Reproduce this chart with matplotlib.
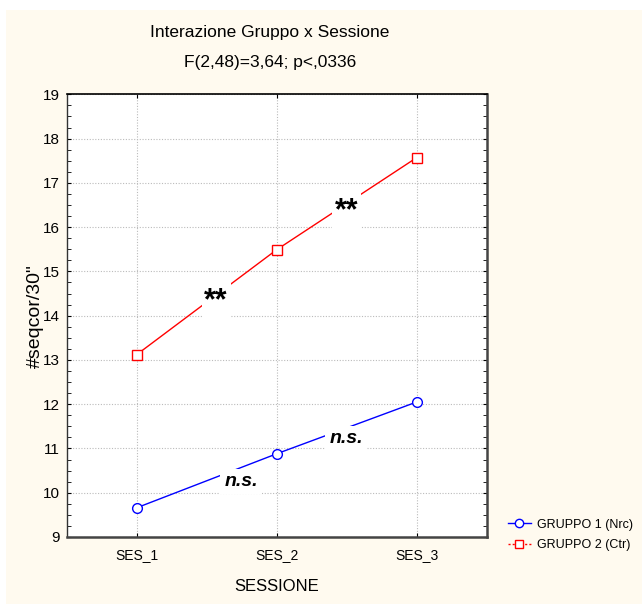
import matplotlib
matplotlib.use("Agg")
import matplotlib.pyplot as plt
from matplotlib.lines import Line2D
from matplotlib.patches import Rectangle
from matplotlib.ticker import MultipleLocator
from matplotlib import font_manager

sessions = ["SES_1", "SES_2", "SES_3"]
gruppo1 = [9.66, 10.88, 12.05]
gruppo2 = [13.12, 15.49, 17.57]
series_labels = ["GRUPPO 1 (Nrc)", "GRUPPO 2 (Ctr)"]
title_lines = ["Interazione Gruppo x Sessione", "F(2,48)=3,64; p<,0336"]
annotations = [("**", 1.567, 14.33), ("**", 2.497, 16.36)]
ns_annotations = [("n.s.", 1.746, 10.25), ("n.s.", 2.497, 11.22)]

names = {f.name for f in font_manager.fontManager.ttflist}
narrow = "Liberation Sans Narrow" if "Liberation Sans Narrow" in names else "Liberation Sans"
NF = [narrow, "DejaVu Sans"]
AF = ["Liberation Sans", "DejaVu Sans"]

bg = "#FFFAEF"
fig = plt.figure(figsize=(6.42, 6.04), dpi=100)
fig.patch.set_facecolor(bg)
W, H = 642, 604
# white border strips top/left
fig.patches.append(Rectangle((0, 1 - 10 / H), 1, 10 / H, transform=fig.transFigure,
                             facecolor="white", edgecolor="none", zorder=0))
fig.patches.append(Rectangle((0, 0), 6 / W, 1, transform=fig.transFigure,
                             facecolor="white", edgecolor="none", zorder=0))

left, right, top, bottom = 66.7, 486.7, 94.3, 537.0
ax = fig.add_axes([left / W, 1 - bottom / H, (right - left) / W, (bottom - top) / H])
ax.set_facecolor("white")
x = [1, 2, 3]
ax.plot(x, gruppo1, color="#0000FF", lw=1, marker="o", ms=7, mfc="white",
        mec="#0000FF", mew=1, zorder=3)
ax.plot(x, gruppo2, color="#FF0000", lw=1, marker="s", ms=7, mfc="white",
        mec="#FF0000", mew=1, zorder=3)

ax.set_xlim(0.5, 3.5)
ax.set_ylim(9, 19)
ax.set_xticks(x)
ax.set_xticklabels(sessions, fontfamily=NF, fontsize=10)
ax.set_yticks(range(9, 20))
ax.yaxis.set_minor_locator(MultipleLocator(0.25))
for lab in ax.get_yticklabels():
    lab.set_fontfamily(NF)
    lab.set_fontsize(11)
ax.tick_params(axis="y", which="major", direction="in", length=3, right=True, pad=5)
ax.tick_params(axis="y", which="minor", direction="in", length=3, right=True)
ax.tick_params(axis="x", which="major", direction="in", length=3, top=True, pad=8)
ax.grid(True, which="major", color="#BBBBBB", linestyle=(0, (1, 1.5)), lw=0.8)
ax.set_axisbelow(True)
ax.spines["top"].set_linewidth(1.2)
ax.spines["top"].set_color("black")
ax.spines["left"].set_linewidth(1.0)
ax.spines["left"].set_color("#333333")
for k in ("bottom", "right"):
    ax.spines[k].set_linewidth(1.8)
    ax.spines[k].set_color("#444444")

ax.set_ylabel('#seqcor/30"', fontfamily=NF, fontsize=14, labelpad=-1)
ax.set_xlabel("SESSIONE", fontfamily=NF, fontsize=12, labelpad=12)

for txt, xx, yy in annotations:
    ax.text(xx, yy, txt, ha="center", va="center", fontsize=22, fontweight="bold",
            fontfamily=AF, zorder=4,
            bbox=dict(facecolor="white", edgecolor="none", pad=2))
for txt, xx, yy in ns_annotations:
    ax.text(xx, yy, txt, ha="center", va="center", fontsize=14, fontweight="bold",
            fontstyle="italic", fontfamily=AF, zorder=4,
            bbox=dict(facecolor="white", edgecolor="none", pad=3))

fig.text(270 / W, 1 - 33 / H, title_lines[0], ha="center", va="center",
         fontfamily=NF, fontsize=12.5)
fig.text(270 / W, 1 - 62 / H, title_lines[1], ha="center", va="center",
         fontfamily=NF, fontsize=12.5)

handles = [
    Line2D([], [], color="#0000FF", lw=1, marker="o", ms=6, mfc="white", mec="#0000FF"),
    Line2D([], [], color="#FF0000", lw=1, linestyle=(0, (1.5, 1.5)), marker="s", ms=6,
           mfc="white", mec="#FF0000"),
]
fig.legend(handles, series_labels, loc="center left",
           bbox_to_anchor=(508 / W, 1 - 535 / H), frameon=False,
           prop={"family": NF, "size": 9}, handlelength=1.8, handletextpad=0.5,
           labelspacing=0.7, borderaxespad=0, borderpad=0)

fig.savefig("out.png", dpi=100, facecolor=fig.get_facecolor())
